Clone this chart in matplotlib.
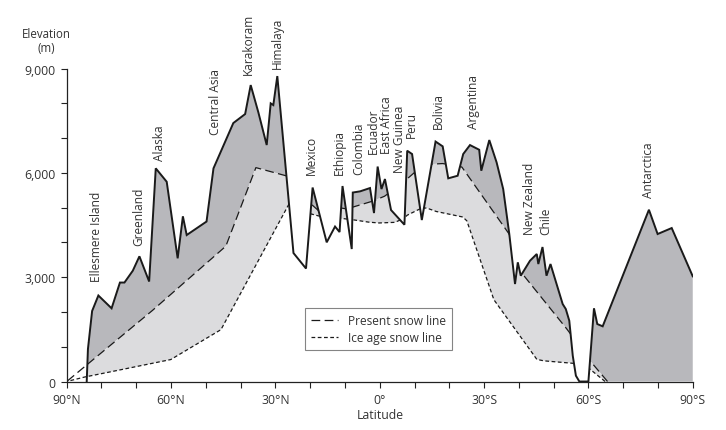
import numpy as np
import matplotlib
matplotlib.use("Agg")
import matplotlib.pyplot as plt
from matplotlib.lines import Line2D
from matplotlib.ticker import FixedLocator, MultipleLocator

# ---------------- data (latitude: N positive, S negative; elevation in m) -------------
terrain_lat = [84.25, 83.9, 82.7, 80.9, 77.1, 74.7, 73.4, 71.0, 69.1, 66.3, 64.4, 61.25,
               58.1, 56.6, 55.5, 49.8, 47.8, 42.1, 38.7, 37.1, 34.9, 32.5, 31.35, 30.6,
               29.45, 24.8, 21.2, 19.3, 15.25, 12.85, 11.55, 10.7, 8.05, 7.75, 5.65, 2.8,
               1.65, 0.6, -0.5, -1.5, -3.25, -7.1, -7.9, -9.3, -12.1, -16.05, -18.1, -19.7,
               -22.4, -24.0, -25.95, -28.6, -29.2, -31.5, -33.6, -35.5, -37.25, -38.9,
               -39.7, -40.55, -43.2, -45.15, -45.6, -46.8, -47.95, -49.1, -52.6, -53.5,
               -54.5, -55.5, -56.4, -57.4, -60.0, -61.6, -62.55, -64.1, -77.4, -79.9,
               -83.95, -90.0]
terrain_elev = [0, 934, 2027, 2473, 2105, 2846, 2846, 3186, 3600, 2875, 6130, 5744,
                3542, 4750, 4212, 4600, 6130, 7432, 7691, 8524, 7740, 6800, 7998, 7949,
                8783, 3694, 3249, 5578, 4002, 4456, 4298, 5621, 3809, 5434, 5468, 5563,
                4844, 6181, 5534, 5822, 4931, 4508, 6636, 6541, 4643, 6900, 6762, 5842,
                5917, 6541, 6799, 6664, 6061, 6943, 6302, 5534, 4241, 2803,
                3427, 3042, 3473, 3666, 3378, 3867, 3042, 3378, 2228, 2084,
                1748, 742, 167, 0, 0, 2105, 1653, 1587, 4939, 4241,
                4413, 3025]

present_lat = [90.0, 84.3, 65.2, 55.5, 44.2, 35.6, 26.65, 19.45, 17.15, 10.85, 9.4, 7.7,
               1.95, -1.5, -7.85, -10.15, -15.0, -18.2, -23.65, -37.2, -40.6, -54.15,
               -60.45, -65.5, -90.0]
present_elev = [0, 474, 2056, 2904, 3896, 6153, 5908, 5074, 4873, 4988, 4959, 5017,
                5189, 5333, 5822, 6023, 6253, 6268, 6167, 4241, 3148, 1466,
                598, 0, 0]

iceage_lat = [90.0, 84.25, 74.7, 60.0, 45.6, 26.1, 19.75, 17.45, 11.15, 7.75, 2.8, -0.1,
              -4.4, -7.0, -7.95, -12.05, -13.6, -16.45, -23.95, -25.1, -32.85, -45.2,
              -47.5, -55.65, -60.45, -64.8, -90.0]
iceage_elev = [0, 144, 331, 633, 1495, 5103, 4816, 4758, 4692, 4652, 4577, 4557,
               4577, 4692, 4787, 4988, 4988, 4882, 4729, 4614, 2343, 633,
               589, 523, 359, 0, 0]

region_names = ["Ellesmere Island", "Greenland", "Alaska", "Central Asia", "Karakoram",
                "Himalaya", "Mexico", "Ethiopia", "Colombia", "Ecuador", "East Africa",
                "New Guinea", "Peru", "Bolivia", "Argentina", "New Zealand", "Chile",
                "Antarctica"]
region_lat = [81.3, 69.35, 63.2, 47.35, 37.7, 29.4, 19.55, 11.7, 6.15, 1.85, -2.0,
              -5.65, -9.2, -16.85, -26.9, -43.2, -47.8, -77.2]
region_base = [2889, 3924, 6368, 7116, 8841, 9013, 5966, 5966, 5966, 6569, 6569,
               6023, 7030, 7288, 7288, 4241, 4241, 5304]

xtick_pos = [90, 60, 30, 0, -30, -60, -90]
xtick_labels = ["90°N", "60°N", "30°N", "0°", "30°S", "60°S", "90°S"]
ytick_pos = [0, 3000, 6000, 9000]
ytick_labels = ["0", "3,000", "6,000", "9,000"]

# ---------------- style ----------------
plt.rcParams["font.family"] = ["Open Sans", "DejaVu Sans"]
TXT = "#333333"
DARK = "#b8b8bc"
LIGHT = "#dcdcde"
LINE = "#1a1a1a"

fig = plt.figure(figsize=(7.26, 4.31), dpi=100)
ax = fig.add_axes([0.0919, 0.1125, 0.8623, 0.7262])

# ---------------- fills ----------------
tl = np.array(terrain_lat); te = np.array(terrain_elev, float)
pl = np.array(present_lat); pe = np.array(present_elev, float)
il = np.array(iceage_lat); ie = np.array(iceage_elev, float)

grid = np.union1d(np.linspace(-90, 90, 18001), np.concatenate([tl, pl, il]))
u = -grid  # increasing for interpolation
T = np.interp(u, -tl, te, left=0, right=0)
P = np.interp(u, -pl, pe)
I = np.interp(u, -il, ie)

ax.fill_between(grid, P, T, where=T > P, interpolate=True, color=DARK, lw=0, zorder=1)
upper = np.minimum(T, P)
ax.fill_between(grid, I, upper, where=upper > I, interpolate=True, color=LIGHT, lw=0, zorder=1)

# ---------------- snow lines (drawn where they lie within the land) ----------------
vis_p = ((T >= P - 1) & (P > 1)) | (grid >= 84.0)
vis_i = ((T >= I - 1) & (I > 1)) | (grid >= 84.0)
ax.plot(grid, np.where(vis_p, P, np.nan), color=LINE, lw=0.9, dashes=(7, 3.5), zorder=2)
ax.plot(grid, np.where(vis_i, I, np.nan), color=LINE, lw=0.9, dashes=(3, 2), zorder=2)

# ---------------- terrain ----------------
ax.plot(tl, te, color=LINE, lw=1.4, solid_joinstyle="miter", zorder=3)

# ---------------- region labels ----------------
for name, la, b in zip(region_names, region_lat, region_base):
    ax.text(la, b, name, rotation=90, ha="center", va="bottom", fontsize=8.6, color=TXT,
            clip_on=False)

# ---------------- axes ----------------
ax.set_xlim(90, -90)
ax.set_ylim(0, 9000)
for s in ["top", "right"]:
    ax.spines[s].set_visible(False)
for s in ["left", "bottom"]:
    ax.spines[s].set_color("#222222")
    ax.spines[s].set_linewidth(0.9)
ax.xaxis.set_major_locator(FixedLocator(xtick_pos))
ax.set_xticklabels(xtick_labels)
ax.xaxis.set_minor_locator(MultipleLocator(10))
ax.yaxis.set_major_locator(FixedLocator(ytick_pos))
ax.set_yticklabels(ytick_labels)
ax.yaxis.set_minor_locator(MultipleLocator(1000))
ax.tick_params(which="both", length=4, width=0.8, color="#222222")
ax.tick_params(which="major", labelsize=8.8, labelcolor=TXT, pad=4)

fig.text(46 / 726, 1 - 28 / 431, "Elevation\n(m)", ha="center", va="top", fontsize=8.3,
         color=TXT, linespacing=1.1)
fig.text(380 / 726, 1 - 416 / 431, "Latitude", ha="center", va="center", fontsize=8.8,
         color=TXT)

handles = [Line2D([], [], color=LINE, lw=0.9, dashes=(7, 3.5)),
           Line2D([], [], color=LINE, lw=0.9, dashes=(3, 2))]
leg = ax.legend(handles, ["Present snow line", "Ice age snow line"], loc="lower left",
                bbox_to_anchor=(0.3807, 0.1006), fontsize=8.6, frameon=True, fancybox=False,
                handlelength=2.3, borderpad=0.5, labelspacing=0.3, handletextpad=0.8,
                borderaxespad=0)
leg.get_frame().set_edgecolor("#666666")
leg.get_frame().set_linewidth(0.8)
for t in leg.get_texts():
    t.set_color(TXT)

fig.savefig("out.png", dpi=100)
